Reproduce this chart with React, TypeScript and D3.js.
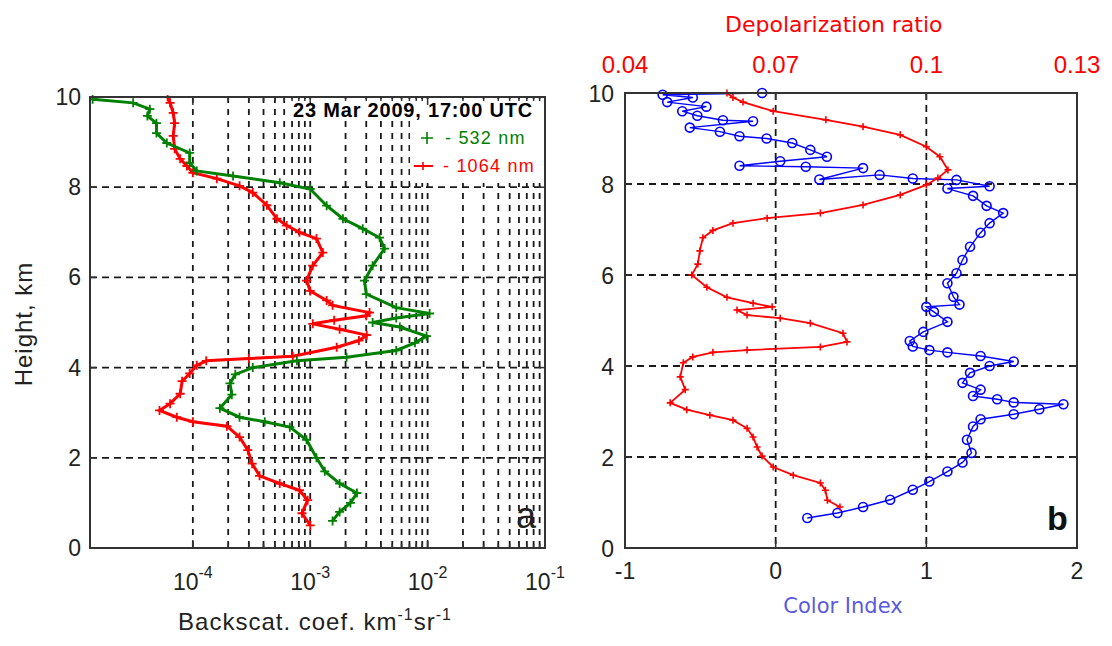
import React from "react";
import * as d3 from "d3";

// left panel: backscatter profiles (km^-1 sr^-1) vs height (km)
const height532 = [0.6, 0.8, 1.0, 1.22, 1.43, 1.7, 2.0, 2.4, 2.68, 2.8, 2.9, 3.1, 3.4, 3.65, 3.85, 4.0, 4.15, 4.23, 4.38, 4.55, 4.7, 4.9, 5.0, 5.1, 5.2, 5.33, 5.63, 5.93, 6.26, 6.64, 6.88, 7.08, 7.3, 7.59, 7.96, 8.1, 8.25, 8.36, 8.54, 8.76, 8.98, 9.2, 9.42, 9.58, 9.73, 9.87, 9.95];
const beta532 = [1.55e-3, 1.78e-3, 2.2e-3, 2.5e-3, 1.78e-3, 1.33e-3, 1.13e-3, 9.3e-4, 6.7e-4, 4.1e-4, 2.5e-4, 1.7e-4, 2.15e-4, 2.07e-4, 2.3e-4, 3.24e-4, 7.7e-4, 2.04e-3, 5.4e-3, 7.8e-3, 9.8e-3, 5.8e-3, 3.4e-3, 5.4e-3, 1.04e-2, 5.4e-3, 3.0e-3, 2.9e-3, 3.4e-3, 4.3e-3, 3.9e-3, 2.8e-3, 1.9e-3, 1.38e-3, 1.0e-3, 5.5e-4, 2.2e-4, 1.08e-4, 9.4e-5, 9.4e-5, 6.0e-5, 4.9e-5, 4.9e-5, 4.1e-5, 4.3e-5, 3.1e-5, 1.4e-5];
const height1064 = [0.5, 0.77, 1.06, 1.28, 1.43, 1.6, 1.87, 2.17, 2.46, 2.7, 2.8, 2.9, 3.05, 3.2, 3.42, 3.7, 3.87, 4.05, 4.15, 4.2, 4.25, 4.45, 4.6, 4.72, 4.85, 4.97, 5.05, 5.15, 5.22, 5.38, 5.49, 5.7, 5.93, 6.26, 6.55, 6.86, 7.0, 7.15, 7.3, 7.6, 7.88, 8.03, 8.19, 8.32, 8.47, 8.63, 8.85, 9.14, 9.42, 9.65, 9.87, 10.0];
const beta1064 = [1.0e-3, 8.5e-4, 9.5e-4, 8.1e-4, 5.5e-4, 3.7e-4, 3.2e-4, 2.94e-4, 2.5e-4, 1.95e-4, 1.0e-4, 7.3e-5, 5.2e-5, 6.4e-5, 7.8e-5, 8.1e-5, 9.4e-5, 1.08e-4, 1.3e-4, 3.0e-4, 7.1e-4, 1.68e-3, 2.6e-3, 3.03e-3, 1.78e-3, 1.05e-3, 1.6e-3, 3.0e-3, 3.2e-3, 1.55e-3, 1.38e-3, 1.0e-3, 9.3e-4, 1.05e-3, 1.28e-3, 1.13e-3, 8.1e-4, 6.3e-4, 5.2e-4, 4.27e-4, 3.24e-4, 2.5e-4, 1.6e-4, 1.0e-4, 8.9e-5, 7.8e-5, 7.0e-5, 6.8e-5, 7.0e-5, 6.8e-5, 6.4e-5, 6.1e-5];

// right panel: depolarization ratio (top axis) and color index (bottom axis)
const heightDep = [0.9, 1.05, 1.27, 1.43, 1.6, 1.78, 2.02, 2.22, 2.44, 2.63, 2.81, 2.92, 3.04, 3.19, 3.48, 3.76, 4.07, 4.2, 4.3, 4.35, 4.42, 4.53, 4.72, 4.94, 5.05, 5.12, 5.23, 5.3, 5.38, 5.51, 5.73, 6.0, 6.24, 6.53, 6.82, 6.98, 7.14, 7.25, 7.36, 7.54, 7.76, 7.98, 8.13, 8.31, 8.6, 8.82, 9.08, 9.26, 9.41, 9.6, 9.8, 9.9, 10.0];
const depolRatio = [0.0828, 0.0803, 0.0799, 0.0789, 0.0735, 0.0695, 0.0673, 0.0663, 0.0655, 0.0643, 0.0615, 0.0569, 0.0523, 0.049, 0.052, 0.051, 0.0516, 0.0535, 0.0575, 0.0643, 0.0789, 0.0842, 0.0834, 0.0769, 0.0709, 0.0643, 0.0623, 0.0693, 0.0655, 0.0603, 0.0563, 0.0533, 0.0545, 0.0549, 0.0555, 0.0575, 0.0615, 0.0683, 0.0789, 0.0874, 0.0948, 0.1, 0.1023, 0.1043, 0.1027, 0.1, 0.0948, 0.0874, 0.08, 0.0695, 0.0635, 0.0615, 0.0603];
const heightCI = [0.66, 0.77, 0.9, 1.06, 1.28, 1.46, 1.68, 1.88, 2.09, 2.38, 2.67, 2.83, 2.94, 3.05, 3.16, 3.2, 3.27, 3.34, 3.48, 3.63, 3.85, 4.0, 4.1, 4.22, 4.3, 4.35, 4.43, 4.55, 4.75, 4.97, 5.19, 5.3, 5.35, 5.52, 5.82, 6.04, 6.33, 6.62, 6.93, 7.14, 7.36, 7.52, 7.74, 7.9, 7.95, 8.09, 8.12, 8.2, 8.1, 8.35, 8.38, 8.4, 8.5, 8.6, 8.75, 8.9, 9.0, 9.05, 9.15, 9.24, 9.38, 9.4, 9.5, 9.6, 9.7, 9.8, 9.9, 9.96, 10.0];
const colorIndex = [0.21, 0.41, 0.58, 0.76, 0.91, 1.02, 1.14, 1.24, 1.3, 1.27, 1.31, 1.36, 1.58, 1.75, 1.91, 1.58, 1.47, 1.31, 1.36, 1.24, 1.29, 1.42, 1.58, 1.36, 1.14, 1.02, 0.91, 0.89, 0.98, 1.14, 1.05, 1.0, 1.22, 1.18, 1.14, 1.2, 1.24, 1.29, 1.36, 1.42, 1.51, 1.4, 1.31, 1.14, 1.42, 1.2, 0.91, 0.69, 0.29, 0.58, 0.2, -0.24, 0.03, 0.34, 0.23, 0.11, -0.06, -0.24, -0.37, -0.57, -0.15, -0.35, -0.52, -0.62, -0.46, -0.72, -0.55, -0.75, -0.09];

const heightTicks = [0, 2, 4, 6, 8, 10];
const betaDecades = [1e-4, 1e-3, 1e-2, 1e-1];
const betaTickExp = ["-4", "-3", "-2", "-1"];
const ciTicks = [-1, 0, 1, 2];
const depTicks = [0.04, 0.07, 0.1, 0.13];
const depTickLabels = ["0.04", "0.07", "0.1", "0.13"];

const FONT = "'Liberation Sans', Arial, sans-serif";
const FONT2 = "'DejaVu Sans', Verdana, sans-serif";
const AXIS = "#333";
const GRID = "#1a1a1a";

function plusPath(xs: number[], ys: number[], s: number) {
  return xs.map((x, i) => `M${x - s},${ys[i]}H${x + s}M${x},${ys[i] - s}V${ys[i] + s}`).join("");
}

export default function App() {
  // left panel scales
  const xL = d3.scaleLog().domain([1.33e-5, 1e-1]).range([90, 545]);
  const yL = d3.scaleLinear().domain([0, 10]).range([548, 97]);
  // right panel scales
  const xCI = d3.scaleLinear().domain([-1, 2]).range([625, 1077]);
  const xDep = d3.scaleLinear().domain([0.04, 0.13]).range([625, 1077]);
  const yR = d3.scaleLinear().domain([0, 10]).range([548, 93]);

  const minor: number[] = [];
  betaDecades.slice(0, 3).forEach((d) => {
    for (let k = 2; k <= 9; k++) minor.push(d * k);
  });

  const lineL = (h: number[], v: number[]) =>
    d3.line<number>().x((i) => xL(v[i])).y((i) => yL(h[i]))(d3.range(h.length)) || "";
  const lineDep = d3.line<number>().x((i) => xDep(depolRatio[i])).y((i) => yR(heightDep[i]))(d3.range(heightDep.length)) || "";
  const lineCI = d3.line<number>().x((i) => xCI(colorIndex[i])).y((i) => yR(heightCI[i]))(d3.range(heightCI.length)) || "";

  const [lx0, lx1] = xL.range();
  const [ly0, ly1] = [yL(10), yL(0)];
  const [rx0, rx1] = xCI.range();
  const [ry0, ry1] = [yR(10), yR(0)];

  return (
    <svg width={1112} height={646} style={{ position: "absolute", left: 0, top: 0, background: "#fff" }}>
      <defs>
        <clipPath id="clipL"><rect x={lx0} y={ly0 - 2} width={lx1 - lx0} height={ly1 - ly0 + 2} /></clipPath>
        <clipPath id="clipR"><rect x={rx0 - 6} y={ry0 - 6} width={rx1 - rx0 + 6} height={ry1 - ry0 + 6} /></clipPath>
      </defs>

      {/* ---------- left panel ---------- */}
      <g stroke={GRID} strokeWidth={1.8} strokeDasharray="7,5">
        {heightTicks.slice(1, 5).map((h) => (
          <line key={"lh" + h} x1={lx0} x2={lx1} y1={yL(h)} y2={yL(h)} />
        ))}
        {betaDecades.slice(0, 3).concat(minor).map((d, i) => (
          <line key={"lv" + i} x1={xL(d)} x2={xL(d)} y1={ly0} y2={ly1} strokeDasharray="6,6" />
        ))}
      </g>
      {/* white boxes behind the annotation and the legend */}
      <rect x={287} y={99} width={lx1 - 288} height={22} fill="#fff" />
      <rect x={410} y={121} width={lx1 - 411} height={62} fill="#fff" />
      <g fill="none" stroke={AXIS} strokeWidth={1.5}>
        {heightTicks.map((h) => (
          <g key={"lt" + h}>
            <line x1={lx0} x2={lx0 + 6} y1={yL(h)} y2={yL(h)} />
            <line x1={lx1} x2={lx1 - 6} y1={yL(h)} y2={yL(h)} />
          </g>
        ))}
        {betaDecades.map((d) => (
          <g key={"lxt" + d}>
            <line x1={xL(d)} x2={xL(d)} y1={ly1} y2={ly1 - 8} />
            <line x1={xL(d)} x2={xL(d)} y1={ly0} y2={ly0 + 8} />
          </g>
        ))}
        {minor.map((d, i) => (
          <g key={"lmt" + i}>
            <line x1={xL(d)} x2={xL(d)} y1={ly1} y2={ly1 - 4} />
            <line x1={xL(d)} x2={xL(d)} y1={ly0} y2={ly0 + 4} />
          </g>
        ))}
      </g>
      <g clipPath="url(#clipL)" fill="none">
        <path d={lineL(height1064, beta1064)} stroke="#ff0000" strokeWidth={3} />
        <path d={plusPath(beta1064.map((v) => xL(v)), height1064.map((h) => yL(h)), 4.5)} stroke="#ff0000" strokeWidth={1.8} />
        <path d={lineL(height532, beta532)} stroke="#008000" strokeWidth={3} />
        <path d={plusPath(beta532.map((v) => xL(v)), height532.map((h) => yL(h)), 4.5)} stroke="#008000" strokeWidth={1.8} />
      </g>
      <rect x={lx0} y={ly0} width={lx1 - lx0} height={ly1 - ly0} fill="none" stroke={AXIS} strokeWidth={2} />

      <g fontFamily={FONT} fontSize={23} fill="#222">
        {heightTicks.map((h) => (
          <text key={"lyl" + h} x={81} y={yL(h) + 8} textAnchor="end">{h}</text>
        ))}
        {betaDecades.map((d, i) => (
          <text key={"lxl" + d} x={xL(d)} y={590} textAnchor="middle">
            10<tspan dy={-12} fontSize={16}>{betaTickExp[i]}</tspan>
          </text>
        ))}
        <text x={315} y={630} textAnchor="middle" fontSize={24} letterSpacing={1}>
          Backscat. coef. km<tspan dy={-10} fontSize={16}>-1</tspan>
          <tspan dy={10}>sr</tspan>
          <tspan dy={-10} fontSize={16}>-1</tspan>
        </text>
        <text transform="translate(32,324) rotate(-90)" textAnchor="middle" fontSize={24} letterSpacing={1}>Height, km</text>
        <text x={533} y={117} textAnchor="end" fontWeight="bold" fontSize={20} letterSpacing={0.8} fill="#000">23 Mar 2009, 17:00 UTC</text>
        <text x={445} y={144} fontSize={18} letterSpacing={1.2} fill="#008000">- 532 nm</text>
        <text x={443} y={172} fontSize={18} letterSpacing={1.2} fill="#ff0000">- 1064 nm</text>
        <text x={516} y={528} fontSize={36}>a</text>
      </g>
      <path d="M421,138H433M427,132V144" stroke="#008000" strokeWidth={1.6} />
      <line x1={414} x2={433} y1={166} y2={166} stroke="#ff0000" strokeWidth={2} />
      <path d="M419,166H427M423,162V170" stroke="#ff0000" strokeWidth={1.6} />

      {/* ---------- right panel ---------- */}
      <g stroke={GRID} strokeWidth={1.8} strokeDasharray="7,5">
        {heightTicks.slice(1, 5).map((h) => (
          <line key={"rh" + h} x1={rx0} x2={rx1} y1={yR(h)} y2={yR(h)} />
        ))}
        {ciTicks.slice(1, 3).map((c) => (
          <line key={"rv" + c} x1={xCI(c)} x2={xCI(c)} y1={ry0} y2={ry1} />
        ))}
      </g>
      <g stroke={AXIS} strokeWidth={1.5}>
        {heightTicks.map((h) => (
          <g key={"rt" + h}>
            <line x1={rx0} x2={rx0 + 6} y1={yR(h)} y2={yR(h)} />
            <line x1={rx1} x2={rx1 - 6} y1={yR(h)} y2={yR(h)} />
          </g>
        ))}
        {ciTicks.map((c) => (
          <line key={"rbt" + c} x1={xCI(c)} x2={xCI(c)} y1={ry1} y2={ry1 - 7} />
        ))}
        {depTicks.map((d) => (
          <line key={"rtt" + d} x1={xDep(d)} x2={xDep(d)} y1={ry0} y2={ry0 + 7} />
        ))}
      </g>
      <g clipPath="url(#clipR)" fill="none">
        <path d={lineCI} stroke="#0000ff" strokeWidth={1.4} />
        {colorIndex.map((c, i) => (
          <circle key={"ci" + i} cx={xCI(c)} cy={yR(heightCI[i])} r={4.5} stroke="#0000ff" strokeWidth={1.6} />
        ))}
        <path d={lineDep} stroke="#ff0000" strokeWidth={1.8} />
        <path d={plusPath(depolRatio.map((v) => xDep(v)), heightDep.map((h) => yR(h)), 3.5)} stroke="#ff0000" strokeWidth={1.6} />
      </g>
      <rect x={rx0} y={ry0} width={rx1 - rx0} height={ry1 - ry0} fill="none" stroke={AXIS} strokeWidth={2} />

      <g fontFamily={FONT} fontSize={23} fill="#222">
        {heightTicks.map((h) => (
          <text key={"ryl" + h} x={614} y={yR(h) + 8.5} textAnchor="end">{h}</text>
        ))}
        {ciTicks.map((c) => (
          <text key={"rxl" + c} x={xCI(c)} y={579} textAnchor="middle">{c}</text>
        ))}
        {depTicks.map((d, i) => (
          <text key={"rdl" + d} x={xDep(d)} y={73} textAnchor="middle" fill="#ff0000" fontSize={24}>{depTickLabels[i]}</text>
        ))}
        <text x={1047} y={530} fontSize={34} fontWeight="bold" fill="#111">b</text>
      </g>
      <text x={725} y={32} fontFamily={FONT2} fontSize={22} fill="#ff0000">Depolarization ratio</text>
      <text x={843} y={613} textAnchor="middle" fontFamily={FONT2} fontSize={21} fill="#5a5ae0">Color Index</text>
    </svg>
  );
}
